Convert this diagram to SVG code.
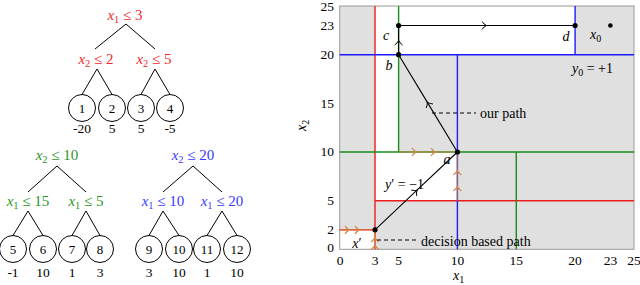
<svg xmlns="http://www.w3.org/2000/svg" xmlns:xlink="http://www.w3.org/1999/xlink" width="640" height="285" viewBox="0 0 640 285" font-family="'Liberation Serif', 'DejaVu Serif', serif">
<style>
text{font-family:"Liberation Serif","DejaVu Serif",serif;font-size:14px;fill:#000}
.it{font-style:italic}
.sub{font-size:10px}
.tl{font-size:15px}
.tl .sub{font-size:10.5px}
.num{font-size:13px}
.val{font-size:13.5px}
.red{fill:#ee2a2a}
.grn{fill:#2a952a}
.blu{fill:#3a3aff}
.edge{stroke:#000;stroke-width:1;fill:none}
.leaf{fill:#fff;stroke:#000;stroke-width:1}
.shade{fill:#e0e0e0;stroke:none}
.lr{stroke:#ee1c1c;stroke-width:1.4;fill:none}
.lg{stroke:#1a8c1a;stroke-width:1.4;fill:none}
.lb{stroke:#1c1cff;stroke-width:1.4;fill:none}
.or{stroke:#d08a4c;stroke-width:1.6;stroke-opacity:0.65;fill:none}
.path{stroke:#000;stroke-width:1.1;fill:none;marker-mid:url(#chev)}
.dash{stroke:#000;stroke-width:1;stroke-dasharray:4,3;fill:none}
.tick{font-size:13.5px}
</style>
<defs>
<marker id="chev" viewBox="-6 -6 12 12" markerWidth="12" markerHeight="12" markerUnits="userSpaceOnUse" orient="auto">
<path d="M-3,-4 Q-1,-1 1.5,0 Q-1,1 -3,4" fill="none" stroke="#000" stroke-width="1"/>
</marker>
<path id="ochev" d="M-3,-4 Q-1,-1 1.5,0 Q-1,1 -3,4" fill="none" stroke="#d08a4c" stroke-width="1.3"/>
</defs>

<!-- Tree edges -->
<g id="tree-edges">
<path class="edge" d="M126,24L95,49M126,24L155,49M97,69L82,94.5M97,69L112,94.5M155,69L141,94.5M155,69L170,94.5"/>
<path class="edge" d="M57,166L28,192M57,166L86,192M28,211L13,235.5M28,211L43,235.5M86,211L72,235.5M86,211L100,235.5"/>
<path class="edge" d="M193,166L163,192M193,166L222,192M163,211L149,235.5M163,211L179,235.5M222,211L207,235.5M222,211L237,235.5"/>
</g>

<!-- Top tree (red) -->
<g id="t1-root"><text x="125" y="20" text-anchor="middle" class="tl red"><tspan class="it">x</tspan><tspan class="sub" dy="3">1</tspan><tspan dy="-3"> ≤ 3</tspan></text></g>
<g id="t1-l"><text x="96" y="64" text-anchor="middle" class="tl red"><tspan class="it">x</tspan><tspan class="sub" dy="3">2</tspan><tspan dy="-3"> ≤ 2</tspan></text></g>
<g id="t1-r"><text x="154" y="64" text-anchor="middle" class="tl red"><tspan class="it">x</tspan><tspan class="sub" dy="3">2</tspan><tspan dy="-3"> ≤ 5</tspan></text></g>
<g id="leaf1"><circle class="leaf" cx="82" cy="108" r="13.5"/><text x="82" y="112.5" text-anchor="middle" class="num">1</text><text x="82" y="133" text-anchor="middle" class="val">-20</text></g>
<g id="leaf2"><circle class="leaf" cx="112" cy="108" r="13.5"/><text x="112" y="112.5" text-anchor="middle" class="num">2</text><text x="112" y="133" text-anchor="middle" class="val">5</text></g>
<g id="leaf3"><circle class="leaf" cx="141" cy="108" r="13.5"/><text x="141" y="112.5" text-anchor="middle" class="num">3</text><text x="141" y="133" text-anchor="middle" class="val">5</text></g>
<g id="leaf4"><circle class="leaf" cx="170" cy="108" r="13.5"/><text x="170" y="112.5" text-anchor="middle" class="num">4</text><text x="170" y="133" text-anchor="middle" class="val">-5</text></g>

<!-- Green tree -->
<g id="t2-root"><text x="57" y="160" text-anchor="middle" class="tl grn"><tspan class="it">x</tspan><tspan class="sub" dy="3">2</tspan><tspan dy="-3"> ≤ 10</tspan></text></g>
<g id="t2-l"><text x="28" y="206" text-anchor="middle" class="tl grn"><tspan class="it">x</tspan><tspan class="sub" dy="3">1</tspan><tspan dy="-3"> ≤ 15</tspan></text></g>
<g id="t2-r"><text x="86" y="206" text-anchor="middle" class="tl grn"><tspan class="it">x</tspan><tspan class="sub" dy="3">1</tspan><tspan dy="-3"> ≤ 5</tspan></text></g>
<g id="leaf5"><circle class="leaf" cx="13" cy="249" r="13.5"/><text x="13" y="253.5" text-anchor="middle" class="num">5</text><text x="13" y="277" text-anchor="middle" class="val">-1</text></g>
<g id="leaf6"><circle class="leaf" cx="43" cy="249" r="13.5"/><text x="43" y="253.5" text-anchor="middle" class="num">6</text><text x="43" y="277" text-anchor="middle" class="val">10</text></g>
<g id="leaf7"><circle class="leaf" cx="72" cy="249" r="13.5"/><text x="72" y="253.5" text-anchor="middle" class="num">7</text><text x="72" y="277" text-anchor="middle" class="val">1</text></g>
<g id="leaf8"><circle class="leaf" cx="100" cy="249" r="13.5"/><text x="100" y="253.5" text-anchor="middle" class="num">8</text><text x="100" y="277" text-anchor="middle" class="val">3</text></g>

<!-- Blue tree -->
<g id="t3-root"><text x="193" y="160" text-anchor="middle" class="tl blu"><tspan class="it">x</tspan><tspan class="sub" dy="3">2</tspan><tspan dy="-3"> ≤ 20</tspan></text></g>
<g id="t3-l"><text x="163" y="206" text-anchor="middle" class="tl blu"><tspan class="it">x</tspan><tspan class="sub" dy="3">1</tspan><tspan dy="-3"> ≤ 10</tspan></text></g>
<g id="t3-r"><text x="222" y="206" text-anchor="middle" class="tl blu"><tspan class="it">x</tspan><tspan class="sub" dy="3">1</tspan><tspan dy="-3"> ≤ 20</tspan></text></g>
<g id="leaf9"><circle class="leaf" cx="149" cy="249" r="13.5"/><text x="149" y="253.5" text-anchor="middle" class="num">9</text><text x="149" y="277" text-anchor="middle" class="val">3</text></g>
<g id="leaf10"><circle class="leaf" cx="179" cy="249" r="13.5"/><text x="179" y="253.5" text-anchor="middle" class="num">10</text><text x="179" y="277" text-anchor="middle" class="val">10</text></g>
<g id="leaf11"><circle class="leaf" cx="207" cy="249" r="13.5"/><text x="207" y="253.5" text-anchor="middle" class="num">11</text><text x="207" y="277" text-anchor="middle" class="val">1</text></g>
<g id="leaf12"><circle class="leaf" cx="237" cy="249" r="13.5"/><text x="237" y="253.5" text-anchor="middle" class="num">12</text><text x="237" y="277" text-anchor="middle" class="val">10</text></g>

<!-- Plot -->
<g id="plot">
<rect x="339.7" y="6" width="294.3" height="243.3" fill="#fff"/>
<rect class="shade" x="339.7" y="6" width="35.3" height="223.8"/>
<rect class="shade" x="375" y="200.7" width="259" height="48.6"/>
<rect class="shade" x="457.4" y="152" width="176.6" height="48.7"/>
<rect class="shade" x="398.6" y="54.7" width="235.4" height="97.3"/>
<rect class="shade" x="575.1" y="6" width="58.9" height="48.7"/>
<rect x="339.7" y="6" width="294.3" height="243.3" fill="none" stroke="#999" stroke-width="1"/>

<path class="lr" d="M375,6V249.3M339.7,229.8H375M375,200.7H634"/>
<path class="lg" d="M339.7,152H634M398.6,6V152M516.3,152V249.3"/>
<path class="lb" d="M339.7,54.7H634M575.1,6V54.7M457.4,54.7V249.3"/>
</g>

<g id="connectors">
<path class="or" d="M339.7,229.8H375M375,249.3V229.8M398.6,152H457.4M457.4,200.7V152"/>
<use xlink:href="#ochev" href="#ochev" transform="translate(348,229.8)"/>
<use xlink:href="#ochev" href="#ochev" transform="translate(358,229.8)"/>
<use xlink:href="#ochev" href="#ochev" transform="translate(375,239) rotate(-90)"/>
<use xlink:href="#ochev" href="#ochev" transform="translate(375,246.5) rotate(-90)"/>
<use xlink:href="#ochev" href="#ochev" transform="translate(415,152)"/>
<use xlink:href="#ochev" href="#ochev" transform="translate(434,152)"/>
<use xlink:href="#ochev" href="#ochev" transform="translate(457.4,172) rotate(-90)"/>
<use xlink:href="#ochev" href="#ochev" transform="translate(457.4,188) rotate(-90)"/>

<path class="path" d="M375,229.8L416.2,190.9L457.4,152"/>
<path class="path" d="M457.4,152L428,103.4L398.6,54.7"/>
<path class="path" d="M398.6,54.7L398.6,42L398.6,25.5"/>
<path class="path" d="M398.6,25.5L485,25.5L575.1,25.5"/>
<path class="dash" d="M432,113H476M377,240H418"/>
</g>

<g id="points">
<circle cx="375" cy="229.8" r="2.6"/>
<circle cx="457.4" cy="152" r="2.6"/>
<circle cx="398.6" cy="54.7" r="2.6"/>
<circle cx="398.6" cy="25.5" r="2.6"/>
<circle cx="575.1" cy="25.5" r="2.6"/>
<circle cx="610.4" cy="25.5" r="2.3"/>
</g>

<g id="plot-labels">
<text x="386" y="40" class="it" text-anchor="middle">c</text>
<text x="566" y="41" class="it" text-anchor="middle">d</text>
<text x="389" y="70" class="it" text-anchor="middle">b</text>
<text x="447" y="164" class="it" text-anchor="middle">a</text>
<text x="357" y="248" text-anchor="middle"><tspan class="it">x</tspan>′</text>
<text x="590" y="39"><tspan class="it">x</tspan><tspan class="sub" dy="3">0</tspan></text>
<text x="572" y="73"><tspan class="it">y</tspan><tspan class="sub" dy="3">0</tspan><tspan dy="-3"> = +1</tspan></text>
<text x="385" y="189"><tspan class="it">y</tspan>′ = −1</text>
<text x="480" y="118">our path</text>
<text x="421" y="246">decision based path</text>
</g>

<g id="axes">
<g class="tick" text-anchor="end">
<text x="334" y="11" class="tick">25</text>
<text x="334" y="30" class="tick">23</text>
<text x="334" y="59" class="tick">20</text>
<text x="334" y="108" class="tick">15</text>
<text x="334" y="156" class="tick">10</text>
<text x="334" y="205" class="tick">5</text>
<text x="334" y="234" class="tick">2</text>
<text x="334" y="252" class="tick">0</text>
</g>
<g text-anchor="middle">
<text x="340" y="265" class="tick">0</text>
<text x="375" y="265" class="tick">3</text>
<text x="398.6" y="265" class="tick">5</text>
<text x="457.4" y="265" class="tick">10</text>
<text x="516.3" y="265" class="tick">15</text>
<text x="575.1" y="265" class="tick">20</text>
<text x="610.4" y="265" class="tick">23</text>
<text x="634" y="265" class="tick">25</text>
</g>
<text x="453" y="280"><tspan class="it">x</tspan><tspan class="sub" dy="2.5">1</tspan></text>
<text transform="translate(306,131) rotate(-90)"><tspan class="it">x</tspan><tspan class="sub" dy="3">2</tspan></text>
</g>
</svg>
